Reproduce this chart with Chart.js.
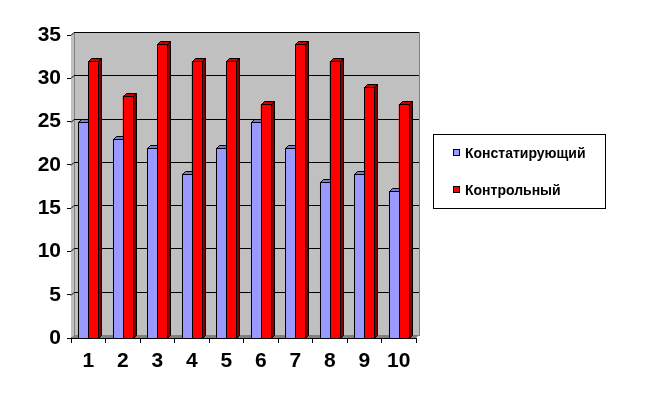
<!DOCTYPE html>
<html>
<head>
<meta charset="utf-8">
<script src="https://cdn.jsdelivr.net/npm/chart.js@4"></script>
<style>
  html, body { margin: 0; padding: 0; background: #fff; }
  #wrap { width: 672px; height: 399px; }
</style>
</head>
<body>
<div id="wrap"><canvas id="myChart" width="672" height="399"></canvas></div>
<script>
// categories and values
const categories = ['1', '2', '3', '4', '5', '6', '7', '8', '9', '10'];
const seriesNames = ['Констатирующий', 'Контрольный'];
const stating = [25, 23, 22, 19, 22, 25, 22, 18, 19, 17];
const control = [32, 28, 34, 32, 32, 27, 34, 32, 29, 27];
const yTicks = [0, 5, 10, 15, 20, 25, 30, 35];

const FONT = "'Liberation Sans', Arial, sans-serif";
const DEPTH = 3;

// front / side / top colours for each series
const shades = [
  {front: '#9999ff', side: '#4d4d80', top: '#7a7acc'},
  {front: '#ff0000', side: '#800000', top: '#cc0000'}
];

// grey back wall, floor and gridlines (excel-like 3d look)
const wallPlugin = {
  id: 'wall',
  beforeDatasetsDraw(chart) {
    const ctx = chart.ctx;
    const a = chart.chartArea;
    const y = chart.scales.y;
    const d = DEPTH;
    ctx.save();
    // side wall
    ctx.fillStyle = '#c0c0c0';
    ctx.beginPath();
    ctx.moveTo(a.left, a.top);
    ctx.lineTo(a.left + d, a.top - d);
    ctx.lineTo(a.left + d, a.bottom - d);
    ctx.lineTo(a.left, a.bottom);
    ctx.closePath();
    ctx.fill();
    // back wall
    ctx.fillRect(a.left + d, a.top - d, a.right - a.left, a.bottom - a.top);
    ctx.strokeStyle = '#808080';
    ctx.lineWidth = 1;
    ctx.strokeRect(a.left + d + 0.5, a.top - d + 0.5, a.right - a.left, a.bottom - a.top);
    // floor
    ctx.fillStyle = '#808080';
    ctx.beginPath();
    ctx.moveTo(a.left, a.bottom);
    ctx.lineTo(a.left + d, a.bottom - d);
    ctx.lineTo(a.right + d, a.bottom - d);
    ctx.lineTo(a.right, a.bottom);
    ctx.closePath();
    ctx.fill();
    // gridlines
    ctx.strokeStyle = '#000';
    yTicks.forEach(v => {
      if (v === 0) return;
      const py = Math.round(y.getPixelForValue(v)) + 0.5;
      ctx.beginPath();
      ctx.moveTo(a.left, py);
      ctx.lineTo(a.left + d, py - d);
      ctx.lineTo(a.right + d, py - d);
      ctx.stroke();
    });
    ctx.restore();
  }
};

// redraw each bar as a small box: side, top, front
const boxPlugin = {
  id: 'boxes',
  afterDatasetsDraw(chart) {
    const ctx = chart.ctx;
    const d = DEPTH;
    ctx.save();
    ctx.lineWidth = 1;
    ctx.strokeStyle = '#000';
    chart.data.datasets.forEach((ds, i) => {
      const meta = chart.getDatasetMeta(i);
      meta.data.forEach(bar => {
        const x0 = Math.round(bar.x - bar.width / 2) + 0.5;
        const x1 = Math.round(bar.x + bar.width / 2) + 0.5;
        const yt = Math.round(bar.y) + 0.5;
        const yb = Math.round(bar.base) + 0.5;
        // side
        ctx.fillStyle = shades[i].side;
        ctx.beginPath();
        ctx.moveTo(x1, yt);
        ctx.lineTo(x1 + d, yt - d);
        ctx.lineTo(x1 + d, yb - d);
        ctx.lineTo(x1, yb);
        ctx.closePath();
        ctx.fill();
        ctx.stroke();
        // top
        ctx.fillStyle = shades[i].top;
        ctx.beginPath();
        ctx.moveTo(x0, yt);
        ctx.lineTo(x0 + d, yt - d);
        ctx.lineTo(x1 + d, yt - d);
        ctx.lineTo(x1, yt);
        ctx.closePath();
        ctx.fill();
        ctx.stroke();
        // front
        ctx.fillStyle = shades[i].front;
        ctx.fillRect(x0, yt, x1 - x0, yb - yt);
        ctx.strokeRect(x0, yt, x1 - x0, yb - yt);
      });
    });
    ctx.restore();
  }
};

// boxed legend on the right
const legendPlugin = {
  id: 'boxLegend',
  afterDraw(chart) {
    const ctx = chart.ctx;
    ctx.save();
    ctx.fillStyle = '#fff';
    ctx.fillRect(433, 134, 172, 74);
    ctx.strokeStyle = '#000';
    ctx.lineWidth = 1;
    ctx.strokeRect(433.5, 134.5, 172, 74);
    ctx.font = 'bold 14px ' + FONT;
    ctx.textBaseline = 'middle';
    chart.data.datasets.forEach((ds, i) => {
      const cy = 153 + i * 37;
      ctx.fillStyle = shades[i].front;
      ctx.fillRect(453, cy - 4, 7, 7);
      ctx.strokeRect(453.5, cy - 3.5, 6, 6);
      ctx.fillStyle = '#000';
      ctx.fillText(ds.label, 465, cy + 1);
    });
    ctx.restore();
  }
};

const data = {
  labels: categories,
  datasets: [
    {label: seriesNames[0], data: stating, backgroundColor: shades[0].front, borderWidth: 0},
    {label: seriesNames[1], data: control, backgroundColor: shades[1].front, borderWidth: 0}
  ]
};

const config = {
  type: 'bar',
  data: data,
  options: {
    responsive: false,
    animation: false,
    categoryPercentage: 0.57,
    barPercentage: 1,
    layout: {padding: {left: 0, top: 35, right: 256, bottom: 0}},
    plugins: {
      legend: {display: false},
      tooltip: {enabled: false}
    },
    scales: {
      x: {
        grid: {display: true, drawOnChartArea: false, offset: true, color: '#000', tickLength: 5},
        border: {display: true, color: '#000'},
        ticks: {color: '#000', padding: 6, font: {family: FONT, size: 21, weight: 'bold'}},
        afterFit: s => { s.height = 61; }
      },
      y: {
        min: 0,
        max: 35,
        grid: {display: true, drawOnChartArea: false, color: '#000', tickLength: 4},
        border: {display: true, color: '#000'},
        ticks: {
          stepSize: 5,
          color: '#000',
          padding: 6,
          font: {family: FONT, size: 21, weight: 'bold'}
        },
        afterBuildTicks: s => { s.ticks = yTicks.map(v => ({value: v})); },
        afterFit: s => { s.width = 71; }
      }
    }
  },
  plugins: [wallPlugin, boxPlugin, legendPlugin]
};

var ctx = document.getElementById('myChart').getContext('2d');
var myChart = new Chart(ctx, config);
</script>
</body>
</html>
